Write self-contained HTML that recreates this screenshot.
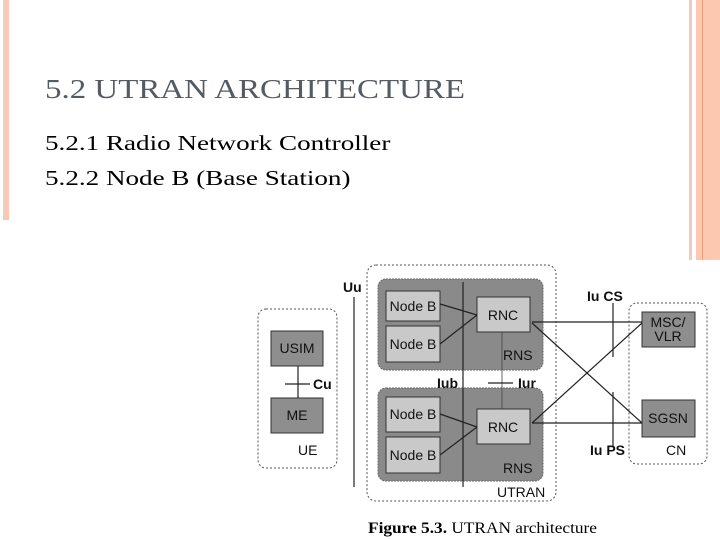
<!DOCTYPE html>
<html><head><style>
html,body{margin:0;padding:0;background:#fff;}
body{width:720px;height:540px;position:relative;overflow:hidden;}
.t{position:absolute;font-family:"Liberation Serif",serif;white-space:nowrap;transform-origin:0 0;}
</style></head><body>
<div style="position:absolute;left:3px;top:0;width:6px;height:220px;background:#f6c9b8"></div>
<div style="position:absolute;left:689px;top:0;width:3px;height:260px;background:#f6c9b8"></div>
<div style="position:absolute;left:696px;top:0;width:24px;height:260px;background:#fdc8b0"></div>
<div style="position:absolute;left:702px;top:0;width:1px;height:260px;background:#e8a07c"></div>
<div class="t" style="left:45px;top:74px;font-size:27px;color:#555b63;transform:scaleX(1.22);">5.2 UTRAN ARCHITECTURE</div>
<div class="t" style="left:45px;top:131px;font-size:21px;color:#000;transform:scaleX(1.29);">5.2.1 Radio Network Controller</div>
<div class="t" style="left:45px;top:166px;font-size:21px;color:#000;transform:scaleX(1.29);">5.2.2 Node B (Base Station)</div>
<svg width="720" height="540" style="position:absolute;left:0;top:0" font-family="Liberation Sans, sans-serif">
<g fill="none" stroke="#555" stroke-dasharray="2,2" stroke-width="1">
<rect x="367" y="265" width="189" height="236" rx="9"/>
<rect x="258" y="309" width="79" height="159" rx="8"/>
<rect x="629" y="303" width="78" height="161" rx="8"/>
</g>
<g fill="#8a8a8a" stroke="#666" stroke-dasharray="2,1">
<rect x="378" y="279" width="165" height="91" rx="8"/>
<rect x="378" y="388" width="165" height="93" rx="8"/>
</g>
<g fill="#c9c9c9" stroke="#333">
<rect x="386" y="291" width="54" height="30"/>
<rect x="386" y="326" width="54" height="36"/>
<rect x="386" y="397" width="54" height="35"/>
<rect x="386" y="437" width="54" height="36"/>
<rect x="477" y="297" width="53" height="35"/>
<rect x="477" y="409" width="53" height="35"/>
</g>
<g fill="#8e8e8e" stroke="#333">
<rect x="271" y="331" width="52" height="35"/>
<rect x="271" y="398" width="52" height="35"/>
<rect x="642" y="312" width="53" height="35"/>
<rect x="642" y="400" width="53" height="37"/>
</g>
<g stroke="#222" stroke-width="1.2" fill="none">
<line x1="463" y1="282" x2="463" y2="487"/>
<line x1="354" y1="297" x2="354" y2="487"/>
<line x1="440" y1="304" x2="477" y2="315"/>
<line x1="440" y1="344" x2="477" y2="315"/>
<line x1="440" y1="414" x2="477" y2="427"/>
<line x1="440" y1="455" x2="477" y2="427"/>
<line x1="502" y1="332" x2="502" y2="409" stroke="#444" stroke-width="0.8"/>
<line x1="488" y1="383" x2="513" y2="383"/>
<line x1="298" y1="366" x2="298" y2="398"/>
<line x1="285" y1="384" x2="310" y2="384"/>
<line x1="532" y1="322" x2="642" y2="322"/>
<line x1="532" y1="323" x2="642" y2="423"/>
<line x1="532" y1="423" x2="642" y2="323"/>
<line x1="532" y1="423" x2="642" y2="423"/>
<line x1="613" y1="303" x2="613" y2="357"/>
<line x1="613" y1="392" x2="613" y2="447"/>
</g>
<g font-size="14" fill="#111">
<text x="413" y="311" text-anchor="middle">Node B</text>
<text x="413" y="349" text-anchor="middle">Node B</text>
<text x="413" y="419" text-anchor="middle">Node B</text>
<text x="413" y="460" text-anchor="middle">Node B</text>
<text x="503" y="320" text-anchor="middle">RNC</text>
<text x="503" y="432" text-anchor="middle">RNC</text>
<text x="297" y="353" text-anchor="middle">USIM</text>
<text x="297" y="420" text-anchor="middle">ME</text>
<text x="668" y="327" text-anchor="middle">MSC/</text>
<text x="668" y="341" text-anchor="middle">VLR</text>
<text x="668" y="423" text-anchor="middle">SGSN</text>
<text x="503" y="360">RNS</text>
<text x="503" y="473">RNS</text>
<text x="298" y="455">UE</text>
<text x="666" y="455">CN</text>
<text x="497" y="497">UTRAN</text>
</g>
<g font-size="14" font-weight="bold" fill="#111">
<text x="343" y="292">Uu</text>
<text x="313" y="389">Cu</text>
<text x="437" y="388">Iub</text>
<text x="518" y="388">Iur</text>
<text x="587" y="301">Iu CS</text>
<text x="590" y="455">Iu PS</text>
</g>
<text x="368" y="533" font-family="Liberation Serif, serif" font-size="16" textLength="229" lengthAdjust="spacingAndGlyphs"><tspan font-weight="bold">Figure 5.3.</tspan> UTRAN architecture</text>
</svg>
</body></html>
